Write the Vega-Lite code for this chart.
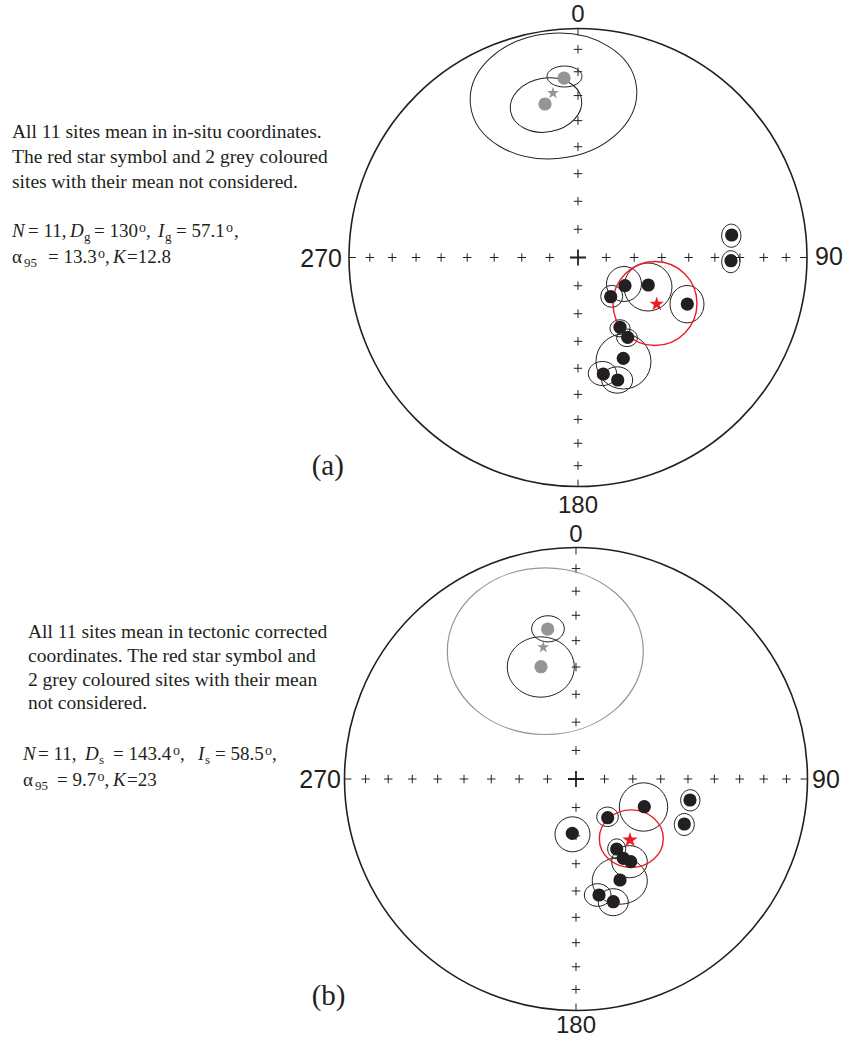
{
  "$schema": "https://vega.github.io/schema/vega-lite/v6.json",
  "padding": 0,
  "spacing": 0,
  "bounds": "flush",
  "background": "white",
  "config": {"view": {"stroke": null}},
  "resolve": {"scale": {"size": "independent", "stroke": "independent", "fill": "independent", "shape": "independent", "strokeWidth": "independent"}},
  "datasets": {
    "ticks": [
      {"x": 0, "y": 0.1233}, {"x": 0, "y": 0.2455}, {"x": 0, "y": 0.366}, {"x": 0, "y": 0.4837}, {"x": 0, "y": 0.5977}, {"x": 0, "y": 0.7071}, {"x": 0, "y": 0.8112}, {"x": 0, "y": 0.909},
      {"x": 0, "y": -0.1233}, {"x": 0, "y": -0.2455}, {"x": 0, "y": -0.366}, {"x": 0, "y": -0.4837}, {"x": 0, "y": -0.5977}, {"x": 0, "y": -0.7071}, {"x": 0, "y": -0.8112}, {"x": 0, "y": -0.909},
      {"x": 0.1233, "y": 0}, {"x": 0.2455, "y": 0}, {"x": 0.366, "y": 0}, {"x": 0.4837, "y": 0}, {"x": 0.5977, "y": 0}, {"x": 0.7071, "y": 0}, {"x": 0.8112, "y": 0}, {"x": 0.909, "y": 0},
      {"x": -0.1233, "y": 0}, {"x": -0.2455, "y": 0}, {"x": -0.366, "y": 0}, {"x": -0.4837, "y": 0}, {"x": -0.5977, "y": 0}, {"x": -0.7071, "y": 0}, {"x": -0.8112, "y": 0}, {"x": -0.909, "y": 0}
    ],
    "edges": [
      {"x": 0, "y": 1, "x2": 0, "y2": 0.97},
      {"x": 0, "y": -1, "x2": 0, "y2": -0.97},
      {"x": 1, "y": 0, "x2": 0.97, "y2": 0},
      {"x": -1, "y": 0, "x2": -0.97, "y2": 0}
    ],
    "ctr": [{"x": 0, "y": 0}],
    "a": [
      {"kind": "prim", "x": 0, "y": 0, "r": 1, "asp": "1", "ang": 0},
      {"kind": "ell", "x": 0.2009, "y": -0.1157, "r": 0.0764, "asp": "1", "ang": 0},
      {"kind": "ell", "x": 0.3057, "y": -0.1288, "r": 0.1048, "asp": "1", "ang": 0},
      {"kind": "ell", "x": 0.1472, "y": -0.1694, "r": 0.048, "asp": "1", "ang": 0},
      {"kind": "ell", "x": 0.476, "y": -0.2039, "r": 0.0742, "asp": "1.1", "ang": 0},
      {"kind": "ell", "x": 0.1834, "y": -0.3092, "r": 0.0437, "asp": "0.85", "ang": 0},
      {"kind": "ell", "x": 0.214, "y": -0.3507, "r": 0.045, "asp": "0.85", "ang": 0},
      {"kind": "ell", "x": 0.1987, "y": -0.4541, "r": 0.1201, "asp": "1", "ang": 0},
      {"kind": "ell", "x": 0.107, "y": -0.5066, "r": 0.062, "asp": "0.85", "ang": 0},
      {"kind": "ell", "x": 0.1712, "y": -0.5349, "r": 0.0677, "asp": "0.85", "ang": 0},
      {"kind": "ell", "x": 0.6694, "y": 0.0952, "r": 0.0421, "asp": "1.2", "ang": 0},
      {"kind": "ell", "x": 0.6673, "y": -0.0183, "r": 0.04, "asp": "1.2", "ang": 0},
      {"kind": "ell", "x": -0.107, "y": 0.7052, "r": 0.3646, "asp": "0.75", "ang": -6},
      {"kind": "ell", "x": -0.1397, "y": 0.6659, "r": 0.1572, "asp": "0.75", "ang": -10},
      {"kind": "ell", "x": -0.059, "y": 0.7904, "r": 0.0764, "asp": "0.6", "ang": 0},
      {"kind": "rell", "x": 0.3362, "y": -0.2009, "r": 0.1834, "asp": "1", "ang": 0},
      {"kind": "dot", "x": 0.2052, "y": -0.1231},
      {"kind": "dot", "x": 0.307, "y": -0.1201},
      {"kind": "dot", "x": 0.1428, "y": -0.1712},
      {"kind": "dot", "x": 0.4773, "y": -0.2031},
      {"kind": "dot", "x": 0.1834, "y": -0.3048},
      {"kind": "dot", "x": 0.217, "y": -0.3485},
      {"kind": "dot", "x": 0.1978, "y": -0.4402},
      {"kind": "dot", "x": 0.1105, "y": -0.5087},
      {"kind": "dot", "x": 0.1734, "y": -0.5349},
      {"kind": "dot", "x": 0.6712, "y": 0.0983},
      {"kind": "dot", "x": 0.6681, "y": -0.014},
      {"kind": "gdot", "x": -0.0611, "y": 0.7838},
      {"kind": "gdot", "x": -0.1441, "y": 0.6703},
      {"kind": "gstar", "x": -0.1092, "y": 0.7183},
      {"kind": "rstar", "x": 0.3437, "y": -0.2031}
    ],
    "b": [
      {"kind": "prim", "x": 0, "y": 0, "r": 1, "asp": "1", "ang": 0},
      {"kind": "ell", "x": -0.0151, "y": -0.2389, "r": 0.0756, "asp": "1", "ang": 0},
      {"kind": "ell", "x": 0.1361, "y": -0.1633, "r": 0.0467, "asp": "0.9", "ang": 0},
      {"kind": "ell", "x": 0.2916, "y": -0.121, "r": 0.1045, "asp": "1", "ang": 0},
      {"kind": "ell", "x": 0.4937, "y": -0.092, "r": 0.0417, "asp": "1.1", "ang": 0},
      {"kind": "ell", "x": 0.4678, "y": -0.1965, "r": 0.0432, "asp": "1.1", "ang": 0},
      {"kind": "ell", "x": 0.1758, "y": -0.3015, "r": 0.0389, "asp": "1.1", "ang": 0},
      {"kind": "ell", "x": 0.2311, "y": -0.3572, "r": 0.0771, "asp": "0.9", "ang": 0},
      {"kind": "ell", "x": 0.1892, "y": -0.4397, "r": 0.1188, "asp": "0.85", "ang": 0},
      {"kind": "ell", "x": 0.0937, "y": -0.5011, "r": 0.0577, "asp": "0.85", "ang": 0},
      {"kind": "ell", "x": 0.1611, "y": -0.5322, "r": 0.0648, "asp": "0.9", "ang": 0},
      {"kind": "gell", "x": -0.1326, "y": 0.5521, "r": 0.4233, "asp": "0.85", "ang": 0},
      {"kind": "ell", "x": -0.121, "y": 0.6488, "r": 0.0706, "asp": "0.8", "ang": 0},
      {"kind": "ell", "x": -0.1521, "y": 0.4838, "r": 0.1447, "asp": "0.9", "ang": 0},
      {"kind": "rell", "x": 0.2389, "y": -0.2579, "r": 0.1382, "asp": "0.9", "ang": 0},
      {"kind": "dot", "x": -0.016, "y": -0.2346},
      {"kind": "dot", "x": 0.1369, "y": -0.1672},
      {"kind": "dot", "x": 0.295, "y": -0.1197},
      {"kind": "dot", "x": 0.4924, "y": -0.0907},
      {"kind": "dot", "x": 0.4678, "y": -0.1944},
      {"kind": "dot", "x": 0.1758, "y": -0.3024},
      {"kind": "dot", "x": 0.2043, "y": -0.3425},
      {"kind": "dot", "x": 0.2363, "y": -0.3572},
      {"kind": "dot", "x": 0.1901, "y": -0.4363},
      {"kind": "dot", "x": 0.0994, "y": -0.5011},
      {"kind": "dot", "x": 0.1611, "y": -0.53},
      {"kind": "gdot", "x": -0.1222, "y": 0.6479},
      {"kind": "gdot", "x": -0.1512, "y": 0.4851},
      {"kind": "gstar", "x": -0.1413, "y": 0.5689},
      {"kind": "rstar", "x": 0.2333, "y": -0.2635}
    ],
    "ta": [
      {"x": -2.4716, "y": 0.5218, "t": "All 11 sites mean in in-situ coordinates.", "st": "n"},
      {"x": -2.4716, "y": 0.4127, "t": "The red star symbol and 2 grey coloured", "st": "n"},
      {"x": -2.4716, "y": 0.3035, "t": "sites with their mean not considered.", "st": "n"},
      {"x": -2.4716, "y": 0.0895, "t": "N", "st": "i"},
      {"x": -2.4017, "y": 0.0895, "t": "= 11,", "st": "f"},
      {"x": -2.2183, "y": 0.0895, "t": "D", "st": "i"},
      {"x": -2.1572, "y": 0.0895, "t": "g", "st": "sub"},
      {"x": -2.1135, "y": 0.0895, "t": "= 130", "st": "f"},
      {"x": -1.917, "y": 0.0895, "t": "o", "st": "sup"},
      {"x": -1.8865, "y": 0.0895, "t": ",", "st": "f"},
      {"x": -1.8341, "y": 0.0895, "t": "I", "st": "i"},
      {"x": -1.8035, "y": 0.0895, "t": "g", "st": "sub"},
      {"x": -1.7555, "y": 0.0895, "t": "= 57.1", "st": "f"},
      {"x": -1.5371, "y": 0.0895, "t": "o", "st": "sup"},
      {"x": -1.5022, "y": 0.0895, "t": ",", "st": "f"},
      {"x": -2.4716, "y": -0.024, "t": "α", "st": "f"},
      {"x": -2.4192, "y": -0.024, "t": "95", "st": "sub"},
      {"x": -2.3144, "y": -0.024, "t": "= 13.3", "st": "f"},
      {"x": -2.0961, "y": -0.024, "t": "o", "st": "sup"},
      {"x": -2.0655, "y": -0.024, "t": ",", "st": "f"},
      {"x": -2.0306, "y": -0.024, "t": "K", "st": "i"},
      {"x": -1.9694, "y": -0.024, "t": "=12.8", "st": "f"},
      {"x": 0, "y": 1.0284, "t": "0", "st": "lc"},
      {"x": 0, "y": -1.1157, "t": "180", "st": "lc"},
      {"x": -1.0306, "y": -0.0393, "t": "270", "st": "lr"},
      {"x": 1.0349, "y": -0.0328, "t": "90", "st": "ll"},
      {"x": -1.1629, "y": -0.9498, "t": "(a)", "st": "p"}
    ],
    "tb": [
      {"x": -2.3672, "y": 0.6091, "t": "All 11 sites mean in tectonic corrected", "st": "n"},
      {"x": -2.3672, "y": 0.5054, "t": "coordinates. The red star symbol and", "st": "n"},
      {"x": -2.3672, "y": 0.4017, "t": "2 grey coloured sites with their mean", "st": "n"},
      {"x": -2.3672, "y": 0.3024, "t": "not considered.", "st": "n"},
      {"x": -2.3888, "y": 0.0821, "t": "N", "st": "i"},
      {"x": -2.324, "y": 0.0821, "t": "= 11,", "st": "f"},
      {"x": -2.121, "y": 0.0821, "t": "D", "st": "i"},
      {"x": -2.0605, "y": 0.0821, "t": "s", "st": "sub"},
      {"x": -2.0, "y": 0.0821, "t": "= 143.4", "st": "f"},
      {"x": -1.7408, "y": 0.0821, "t": "o", "st": "sup"},
      {"x": -1.7106, "y": 0.0821, "t": ",", "st": "f"},
      {"x": -1.6328, "y": 0.0821, "t": "I", "st": "i"},
      {"x": -1.6026, "y": 0.0821, "t": "s", "st": "sub"},
      {"x": -1.5594, "y": 0.0821, "t": "= 58.5", "st": "f"},
      {"x": -1.3434, "y": 0.0821, "t": "o", "st": "sup"},
      {"x": -1.3132, "y": 0.0821, "t": ",", "st": "f"},
      {"x": -2.3888, "y": -0.0302, "t": "α", "st": "f"},
      {"x": -2.3369, "y": -0.0302, "t": "95", "st": "sub"},
      {"x": -2.2419, "y": -0.0302, "t": "= 9.7", "st": "f"},
      {"x": -2.067, "y": -0.0302, "t": "o", "st": "sup"},
      {"x": -2.0367, "y": -0.0302, "t": ",", "st": "f"},
      {"x": -2.0, "y": -0.0302, "t": "K", "st": "i"},
      {"x": -1.9395, "y": -0.0302, "t": "=23", "st": "f"},
      {"x": 0, "y": 1.0238, "t": "0", "st": "lc"},
      {"x": 0, "y": -1.0972, "t": "180", "st": "lc"},
      {"x": -1.0151, "y": -0.0389, "t": "270", "st": "lr"},
      {"x": 1.0194, "y": -0.0389, "t": "90", "st": "ll"},
      {"x": -1.1417, "y": -0.9762, "t": "(b)", "st": "p"}
    ]
  },
  "vconcat": [
    {
      "width": 844,
      "height": 520,
      "encoding": {
        "x": {"field": "x", "type": "quantitative", "scale": {"domain": [-2.524, 1.1616], "nice": false, "zero": false}, "axis": null},
        "y": {"field": "y", "type": "quantitative", "scale": {"domain": [-1.1463, 1.1245], "nice": false, "zero": false}, "axis": null}
      },
      "layer": [
        {"data": {"name": "a"}, "transform": [{"filter": "datum.kind === 'prim'"}],
         "mark": {"type": "point", "shape": "circle", "filled": false, "stroke": "#231f20", "strokeWidth": 1.6, "opacity": 1},
         "encoding": {"size": {"field": "r", "type": "quantitative", "scale": {"type": "pow", "exponent": 2, "domain": [0, 1], "range": [0, 209764]}, "legend": null}}},
        {"data": {"name": "ticks"}, "mark": {"type": "point", "shape": "M-1,0H1M0,-1V1", "filled": false, "stroke": "#231f20", "strokeWidth": 1, "size": 72, "opacity": 1}},
        {"data": {"name": "ctr"}, "mark": {"type": "point", "shape": "M-1,0H1M0,-1V1", "filled": false, "stroke": "#231f20", "strokeWidth": 1.8, "size": 256, "opacity": 1}},
        {"data": {"name": "edges"}, "mark": {"type": "rule", "stroke": "#231f20", "strokeWidth": 1}, "encoding": {"x2": {"field": "x2"}, "y2": {"field": "y2"}}},
        {"data": {"name": "a"}, "transform": [{"filter": "datum.kind === 'ell' || datum.kind === 'gell' || datum.kind === 'rell'"}],
         "mark": {"type": "point", "filled": false, "opacity": 1},
         "encoding": {
           "size": {"field": "r", "type": "quantitative", "scale": {"type": "pow", "exponent": 2, "domain": [0, 1], "range": [0, 209764]}, "legend": null},
           "shape": {"field": "asp", "type": "nominal", "legend": null, "scale": {"domain": ["1", "0.9", "0.85", "0.8", "0.75", "0.6", "1.1", "1.2"], "range": ["circle",
             "M-1,0C-1,-0.4971 -0.5523,-0.9 0,-0.9C0.5523,-0.9 1,-0.4971 1,0C1,0.4971 0.5523,0.9 0,0.9C-0.5523,0.9 -1,0.4971 -1,0Z",
             "M-1,0C-1,-0.4695 -0.5523,-0.85 0,-0.85C0.5523,-0.85 1,-0.4695 1,0C1,0.4695 0.5523,0.85 0,0.85C-0.5523,0.85 -1,0.4695 -1,0Z",
             "M-1,0C-1,-0.4418 -0.5523,-0.8 0,-0.8C0.5523,-0.8 1,-0.4418 1,0C1,0.4418 0.5523,0.8 0,0.8C-0.5523,0.8 -1,0.4418 -1,0Z",
             "M-1,0C-1,-0.4142 -0.5523,-0.75 0,-0.75C0.5523,-0.75 1,-0.4142 1,0C1,0.4142 0.5523,0.75 0,0.75C-0.5523,0.75 -1,0.4142 -1,0Z",
             "M-1,0C-1,-0.3314 -0.5523,-0.6 0,-0.6C0.5523,-0.6 1,-0.3314 1,0C1,0.3314 0.5523,0.6 0,0.6C-0.5523,0.6 -1,0.3314 -1,0Z",
             "M-1,0C-1,-0.6075 -0.5523,-1.1 0,-1.1C0.5523,-1.1 1,-0.6075 1,0C1,0.6075 0.5523,1.1 0,1.1C-0.5523,1.1 -1,0.6075 -1,0Z",
             "M-1,0C-1,-0.6628 -0.5523,-1.2 0,-1.2C0.5523,-1.2 1,-0.6628 1,0C1,0.6628 0.5523,1.2 0,1.2C-0.5523,1.2 -1,0.6628 -1,0Z"]}},
           "angle": {"field": "ang", "type": "quantitative", "scale": null},
           "stroke": {"field": "kind", "type": "nominal", "legend": null, "scale": {"domain": ["ell", "gell", "rell"], "range": ["#231f20", "#939598", "#ed1c24"]}},
           "strokeWidth": {"field": "kind", "type": "nominal", "legend": null, "scale": {"domain": ["ell", "gell", "rell"], "range": [1, 1.4, 1.6]}}
         }},
        {"data": {"name": "a"}, "transform": [{"filter": "datum.kind === 'dot' || datum.kind === 'gdot'"}],
         "mark": {"type": "point", "shape": "circle", "filled": true, "size": 175, "opacity": 1},
         "encoding": {"fill": {"field": "kind", "type": "nominal", "legend": null, "scale": {"domain": ["dot", "gdot"], "range": ["#231f20", "#939598"]}}}},
        {"data": {"name": "a"}, "transform": [{"filter": "datum.kind === 'gstar'"}],
         "mark": {"type": "point", "shape": "M0,-1L0.2245,-0.309L0.951,-0.309L0.3633,0.118L0.588,0.809L0,0.382L-0.588,0.809L-0.3633,0.118L-0.951,-0.309L-0.2245,-0.309Z", "filled": true, "fill": "#939598", "size": 160, "opacity": 1}},
        {"data": {"name": "a"}, "transform": [{"filter": "datum.kind === 'rstar'"}],
         "mark": {"type": "point", "shape": "M0,-1L0.2245,-0.309L0.951,-0.309L0.3633,0.118L0.588,0.809L0,0.382L-0.588,0.809L-0.3633,0.118L-0.951,-0.309L-0.2245,-0.309Z", "filled": true, "fill": "#ed1c24", "size": 230, "opacity": 1}},
        {"data": {"name": "ta"}, "transform": [{"filter": "datum.st === 'n'"}], "mark": {"type": "text", "align": "left", "baseline": "alphabetic", "font": "Liberation Serif", "fontSize": 19.5, "fill": "#231f20"}, "encoding": {"text": {"field": "t"}}},
        {"data": {"name": "ta"}, "transform": [{"filter": "datum.st === 'f'"}], "mark": {"type": "text", "align": "left", "baseline": "alphabetic", "font": "Liberation Serif", "fontSize": 19, "fill": "#231f20"}, "encoding": {"text": {"field": "t"}}},
        {"data": {"name": "ta"}, "transform": [{"filter": "datum.st === 'i'"}], "mark": {"type": "text", "align": "left", "baseline": "alphabetic", "font": "Liberation Serif", "fontStyle": "italic", "fontSize": 19, "fill": "#231f20"}, "encoding": {"text": {"field": "t"}}},
        {"data": {"name": "ta"}, "transform": [{"filter": "datum.st === 'sub'"}], "mark": {"type": "text", "align": "left", "baseline": "alphabetic", "font": "Liberation Serif", "fontSize": 13, "dy": 4, "fill": "#231f20"}, "encoding": {"text": {"field": "t"}}},
        {"data": {"name": "ta"}, "transform": [{"filter": "datum.st === 'sup'"}], "mark": {"type": "text", "align": "left", "baseline": "alphabetic", "font": "Liberation Serif", "fontSize": 14, "dy": -5, "fill": "#231f20"}, "encoding": {"text": {"field": "t"}}},
        {"data": {"name": "ta"}, "transform": [{"filter": "datum.st === 'lc'"}], "mark": {"type": "text", "align": "center", "baseline": "alphabetic", "font": "Liberation Sans", "fontSize": 24, "fill": "#231f20"}, "encoding": {"text": {"field": "t"}}},
        {"data": {"name": "ta"}, "transform": [{"filter": "datum.st === 'lr'"}], "mark": {"type": "text", "align": "right", "baseline": "alphabetic", "font": "Liberation Sans", "fontSize": 25, "fill": "#231f20"}, "encoding": {"text": {"field": "t"}}},
        {"data": {"name": "ta"}, "transform": [{"filter": "datum.st === 'll'"}], "mark": {"type": "text", "align": "left", "baseline": "alphabetic", "font": "Liberation Sans", "fontSize": 25, "fill": "#231f20"}, "encoding": {"text": {"field": "t"}}},
        {"data": {"name": "ta"}, "transform": [{"filter": "datum.st === 'p'"}], "mark": {"type": "text", "align": "left", "baseline": "alphabetic", "font": "Liberation Serif", "fontSize": 29, "fill": "#231f20"}, "encoding": {"text": {"field": "t"}}}
      ]
    },
    {
      "width": 844,
      "height": 520,
      "encoding": {
        "x": {"field": "x", "type": "quantitative", "scale": {"domain": [-2.4881, 1.1577], "nice": false, "zero": false}, "axis": null},
        "y": {"field": "y", "type": "quantitative", "scale": {"domain": [-1.1274, 1.1188], "nice": false, "zero": false}, "axis": null}
      },
      "layer": [
        {"data": {"name": "b"}, "transform": [{"filter": "datum.kind === 'prim'"}],
         "mark": {"type": "point", "shape": "circle", "filled": false, "stroke": "#231f20", "strokeWidth": 1.6, "opacity": 1},
         "encoding": {"size": {"field": "r", "type": "quantitative", "scale": {"type": "pow", "exponent": 2, "domain": [0, 1], "range": [0, 214369]}, "legend": null}}},
        {"data": {"name": "ticks"}, "mark": {"type": "point", "shape": "M-1,0H1M0,-1V1", "filled": false, "stroke": "#231f20", "strokeWidth": 1, "size": 72, "opacity": 1}},
        {"data": {"name": "ctr"}, "mark": {"type": "point", "shape": "M-1,0H1M0,-1V1", "filled": false, "stroke": "#231f20", "strokeWidth": 1.8, "size": 256, "opacity": 1}},
        {"data": {"name": "edges"}, "mark": {"type": "rule", "stroke": "#231f20", "strokeWidth": 1}, "encoding": {"x2": {"field": "x2"}, "y2": {"field": "y2"}}},
        {"data": {"name": "b"}, "transform": [{"filter": "datum.kind === 'ell' || datum.kind === 'gell' || datum.kind === 'rell'"}],
         "mark": {"type": "point", "filled": false, "opacity": 1},
         "encoding": {
           "size": {"field": "r", "type": "quantitative", "scale": {"type": "pow", "exponent": 2, "domain": [0, 1], "range": [0, 214369]}, "legend": null},
           "shape": {"field": "asp", "type": "nominal", "legend": null, "scale": {"domain": ["1", "0.9", "0.85", "0.8", "0.75", "0.6", "1.1", "1.2"], "range": ["circle",
             "M-1,0C-1,-0.4971 -0.5523,-0.9 0,-0.9C0.5523,-0.9 1,-0.4971 1,0C1,0.4971 0.5523,0.9 0,0.9C-0.5523,0.9 -1,0.4971 -1,0Z",
             "M-1,0C-1,-0.4695 -0.5523,-0.85 0,-0.85C0.5523,-0.85 1,-0.4695 1,0C1,0.4695 0.5523,0.85 0,0.85C-0.5523,0.85 -1,0.4695 -1,0Z",
             "M-1,0C-1,-0.4418 -0.5523,-0.8 0,-0.8C0.5523,-0.8 1,-0.4418 1,0C1,0.4418 0.5523,0.8 0,0.8C-0.5523,0.8 -1,0.4418 -1,0Z",
             "M-1,0C-1,-0.4142 -0.5523,-0.75 0,-0.75C0.5523,-0.75 1,-0.4142 1,0C1,0.4142 0.5523,0.75 0,0.75C-0.5523,0.75 -1,0.4142 -1,0Z",
             "M-1,0C-1,-0.3314 -0.5523,-0.6 0,-0.6C0.5523,-0.6 1,-0.3314 1,0C1,0.3314 0.5523,0.6 0,0.6C-0.5523,0.6 -1,0.3314 -1,0Z",
             "M-1,0C-1,-0.6075 -0.5523,-1.1 0,-1.1C0.5523,-1.1 1,-0.6075 1,0C1,0.6075 0.5523,1.1 0,1.1C-0.5523,1.1 -1,0.6075 -1,0Z",
             "M-1,0C-1,-0.6628 -0.5523,-1.2 0,-1.2C0.5523,-1.2 1,-0.6628 1,0C1,0.6628 0.5523,1.2 0,1.2C-0.5523,1.2 -1,0.6628 -1,0Z"]}},
           "angle": {"field": "ang", "type": "quantitative", "scale": null},
           "stroke": {"field": "kind", "type": "nominal", "legend": null, "scale": {"domain": ["ell", "gell", "rell"], "range": ["#231f20", "#939598", "#ed1c24"]}},
           "strokeWidth": {"field": "kind", "type": "nominal", "legend": null, "scale": {"domain": ["ell", "gell", "rell"], "range": [1, 1.4, 1.6]}}
         }},
        {"data": {"name": "b"}, "transform": [{"filter": "datum.kind === 'dot' || datum.kind === 'gdot'"}],
         "mark": {"type": "point", "shape": "circle", "filled": true, "size": 175, "opacity": 1},
         "encoding": {"fill": {"field": "kind", "type": "nominal", "legend": null, "scale": {"domain": ["dot", "gdot"], "range": ["#231f20", "#939598"]}}}},
        {"data": {"name": "b"}, "transform": [{"filter": "datum.kind === 'gstar'"}],
         "mark": {"type": "point", "shape": "M0,-1L0.2245,-0.309L0.951,-0.309L0.3633,0.118L0.588,0.809L0,0.382L-0.588,0.809L-0.3633,0.118L-0.951,-0.309L-0.2245,-0.309Z", "filled": true, "fill": "#939598", "size": 160, "opacity": 1}},
        {"data": {"name": "b"}, "transform": [{"filter": "datum.kind === 'rstar'"}],
         "mark": {"type": "point", "shape": "M0,-1L0.2245,-0.309L0.951,-0.309L0.3633,0.118L0.588,0.809L0,0.382L-0.588,0.809L-0.3633,0.118L-0.951,-0.309L-0.2245,-0.309Z", "filled": true, "fill": "#ed1c24", "size": 260, "opacity": 1}},
        {"data": {"name": "tb"}, "transform": [{"filter": "datum.st === 'n'"}], "mark": {"type": "text", "align": "left", "baseline": "alphabetic", "font": "Liberation Serif", "fontSize": 19.5, "fill": "#231f20"}, "encoding": {"text": {"field": "t"}}},
        {"data": {"name": "tb"}, "transform": [{"filter": "datum.st === 'f'"}], "mark": {"type": "text", "align": "left", "baseline": "alphabetic", "font": "Liberation Serif", "fontSize": 19, "fill": "#231f20"}, "encoding": {"text": {"field": "t"}}},
        {"data": {"name": "tb"}, "transform": [{"filter": "datum.st === 'i'"}], "mark": {"type": "text", "align": "left", "baseline": "alphabetic", "font": "Liberation Serif", "fontStyle": "italic", "fontSize": 19, "fill": "#231f20"}, "encoding": {"text": {"field": "t"}}},
        {"data": {"name": "tb"}, "transform": [{"filter": "datum.st === 'sub'"}], "mark": {"type": "text", "align": "left", "baseline": "alphabetic", "font": "Liberation Serif", "fontSize": 13, "dy": 4, "fill": "#231f20"}, "encoding": {"text": {"field": "t"}}},
        {"data": {"name": "tb"}, "transform": [{"filter": "datum.st === 'sup'"}], "mark": {"type": "text", "align": "left", "baseline": "alphabetic", "font": "Liberation Serif", "fontSize": 14, "dy": -5, "fill": "#231f20"}, "encoding": {"text": {"field": "t"}}},
        {"data": {"name": "tb"}, "transform": [{"filter": "datum.st === 'lc'"}], "mark": {"type": "text", "align": "center", "baseline": "alphabetic", "font": "Liberation Sans", "fontSize": 24, "fill": "#231f20"}, "encoding": {"text": {"field": "t"}}},
        {"data": {"name": "tb"}, "transform": [{"filter": "datum.st === 'lr'"}], "mark": {"type": "text", "align": "right", "baseline": "alphabetic", "font": "Liberation Sans", "fontSize": 25, "fill": "#231f20"}, "encoding": {"text": {"field": "t"}}},
        {"data": {"name": "tb"}, "transform": [{"filter": "datum.st === 'll'"}], "mark": {"type": "text", "align": "left", "baseline": "alphabetic", "font": "Liberation Sans", "fontSize": 25, "fill": "#231f20"}, "encoding": {"text": {"field": "t"}}},
        {"data": {"name": "tb"}, "transform": [{"filter": "datum.st === 'p'"}], "mark": {"type": "text", "align": "left", "baseline": "alphabetic", "font": "Liberation Serif", "fontSize": 29, "fill": "#231f20"}, "encoding": {"text": {"field": "t"}}}
      ]
    }
  ]
}
